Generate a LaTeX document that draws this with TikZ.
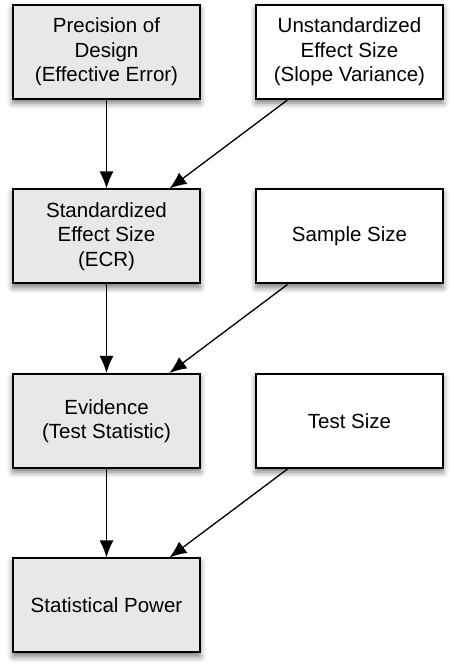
\documentclass[tikz,border=0pt]{standalone}
\usepackage{fontspec}
\setmainfont{Liberation Sans}
\usepackage{tikz}
\usetikzlibrary{arrows.meta, positioning, shadows.blur}
\tikzstyle{factor} = [rectangle, minimum width=187pt, minimum height=94pt, align=center, draw=black, line width=2pt, fill=gray!18, font=\fontsize{20.5}{24.5}\selectfont, blur shadow={shadow xshift=0pt, shadow yshift=-4pt, shadow blur radius=6pt, shadow opacity=55}]
\tikzstyle{input} = [factor, fill=white]
\tikzstyle{arrow} = [line width=1.3pt, -{Latex[length=17pt, width=14pt]}]

\begin{document}
\begin{tikzpicture}[node distance=88.5pt and 54pt]
\useasboundingbox (0,0) rectangle (454pt,665pt);
\node (precision) [factor] at (106.5pt,613pt) {Precision of\\Design\\(Effective Error)};
\node (unstd) [input, right=of precision] {Unstandardized\\Effect Size\\(Slope Variance)};
\node (stdsize) [factor, below=of precision] {Standardized\\Effect Size\\(ECR)};
\node (sample) [input, right=of stdsize] {Sample Size};
\node (evidence) [factor, below=of stdsize] {Evidence\\(Test Statistic)};
\node (testsize) [input, right=of evidence] {Test Size};
\node (power) [factor, below=of evidence] {Statistical Power};
\draw [arrow] (precision) -- (stdsize);
\draw [arrow] ([xshift=-62pt]unstd.south) -- ([xshift=63pt]stdsize.north);
\draw [arrow] (stdsize) -- (evidence);
\draw [arrow] ([xshift=-62pt]sample.south) -- ([xshift=63pt]evidence.north);
\draw [arrow] (evidence) -- (power);
\draw [arrow] ([xshift=-62pt]testsize.south) -- ([xshift=63pt]power.north);
\end{tikzpicture}
\end{document}
